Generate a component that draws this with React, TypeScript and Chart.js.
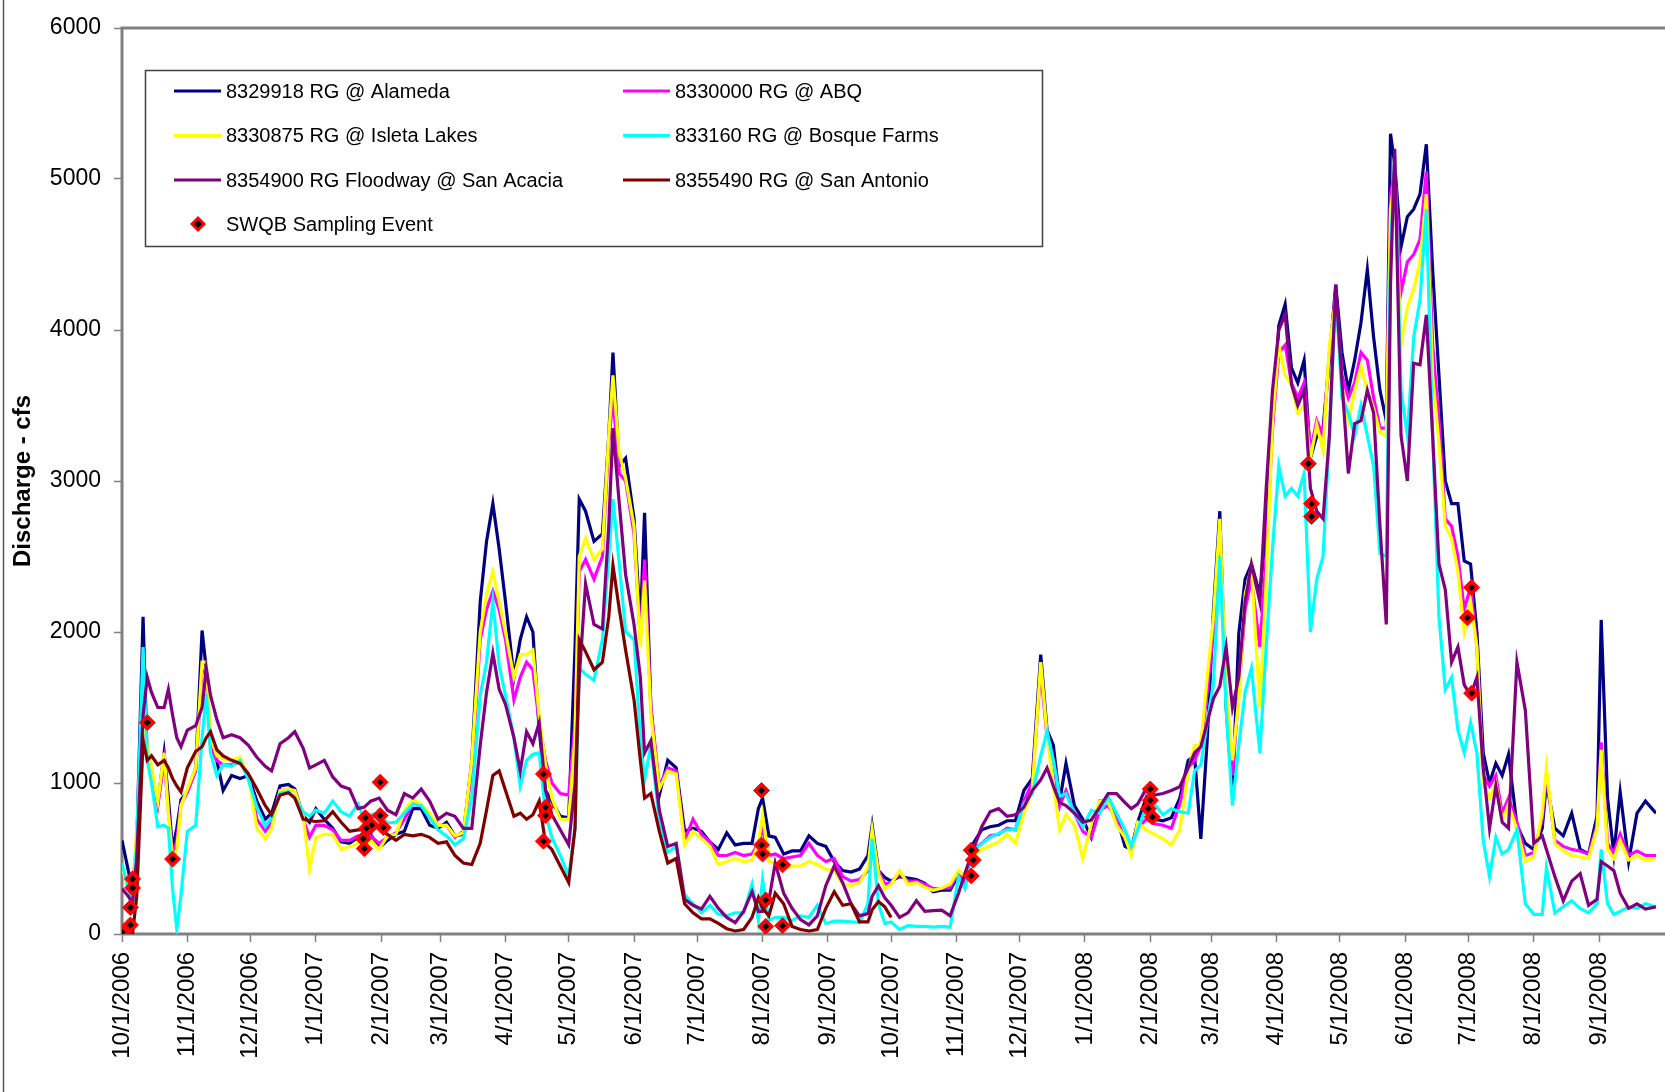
import React, { useEffect, useRef } from "react";
import { Chart, registerables } from "chart.js";

Chart.register(...registerables);

const FONT = "'Liberation Sans', Arial, Helvetica, sans-serif";

const STATIONS = [
  "8329918 RG @ Alameda",
  "8330000 RG @ ABQ",
  "8330875 RG @ Isleta Lakes",
  "833160 RG @ Bosque Farms",
  "8354900 RG Floodway @ San Acacia",
  "8355490 RG @ San Antonio",
];
const SAMPLING_LABEL = "SWQB Sampling Event";
const COLORS = ["#000080", "#FF00FF", "#FFFF00", "#00FFFF", "#800080", "#800000"];
const Y_TITLE = "Discharge - cfs";

// Days elapsed since 10/1/2006 for each discharge reading
const DAYS = [
  0, 3, 5, 7, 10, 12, 14, 17, 20, 22, 24, 26, 28, 31, 35, 38, 40, 42, 45, 48, 52, 56, 60, 64, 68, 71, 75, 79, 82, 86, 89, 92, 96, 100, 104, 108, 112, 115, 118, 122, 126, 130,
  134, 138, 142, 146, 150, 154, 158, 162, 166, 170, 173, 176, 179, 182, 186, 189, 192, 195, 198, 201, 204, 208, 212, 215, 217, 220, 224, 228, 231, 233, 236, 239, 243, 246, 248, 251, 255, 259, 263,
  267, 271, 275, 279, 283, 287, 291, 295, 299, 302, 304, 307, 310, 314, 318, 322, 326, 330, 334, 338, 342, 346, 350, 354, 356, 359, 362, 365, 369, 373, 377,
  381, 385, 389, 393, 397, 400, 404, 408, 412, 416, 420, 424, 428, 432, 436, 439, 442, 445, 448, 452, 456, 460, 464, 468, 472, 476, 479, 482, 486, 490, 494, 498, 502, 506, 509, 512, 515, 518, 521, 524, 527, 530, 533, 536, 540,
  543, 546, 549, 552, 555, 558, 561, 564, 567, 570, 573, 576, 579, 582, 585, 588, 591, 594, 597, 600, 602, 604, 607, 610, 613, 616, 619, 622, 625, 628, 631, 634, 637, 640, 643, 646,
  649, 652, 655, 658, 662, 666, 670, 674, 676, 680, 684, 688, 692, 696, 700, 702, 705, 708, 711, 715, 719, 723, 728,
];

// Daily mean discharge (cfs) per gage, one value per entry of DAYS
const ALAMEDA = [
  620, 420, 300, 600, 2100, 1150, 1080, 870, 1200, 900, 560, 700, 890, 940, 1100, 2010, 1750, 1250, 1150, 950, 1050, 1030, 1050, 880, 760, 800, 980, 990, 960, 780, 740, 830, 760, 700, 610, 600, 640, 620, 660, 570, 620, 660,
  680, 830, 830, 720, 700, 740, 650, 660, 1150, 2200, 2600, 2850, 2550, 2200, 1700, 1950, 2100, 2000, 1350, 950, 880, 780, 770, 1900, 2880, 2800, 2600, 2650, 3300, 3850, 3100, 3150, 2750, 2050, 2790, 1500, 920, 1150, 1100,
  680, 700, 680, 610, 560, 670, 590, 600, 600, 830, 900, 650, 640, 530, 550, 550, 650, 600, 580, 480, 420, 410, 430, 520, 720, 420, 375, 350, 380, 370, 360,
  335, 280, 290, 290, 390, 320, 600, 690, 710, 720, 750, 750, 950, 1030, 1850, 1350, 1250, 880, 1130, 850, 760, 640, 880, 880, 780, 580, 560, 740, 900, 760, 750, 770, 900, 1150, 1180, 630, 1280, 2150, 2800, 1500, 930, 1990, 2350, 2450, 2250,
  2700, 3400, 4030, 4170, 3750, 3650, 3800, 3150, 3300, 3350, 3800, 4300, 3850, 3600, 3800, 4050, 4400, 3950, 3600, 3400, 5300, 5100, 4550, 4750, 4800, 4900, 5230, 4400, 3700, 3000, 2850, 2850, 2470, 2450, 2000, 1200,
  1000, 1130, 1050, 1190, 720, 600, 560, 700, 1000, 700, 650, 800, 560, 530, 780, 2080, 900, 530, 940, 480, 800, 880, 800,
];
const ABQ = [
  420, 330, 260, 650, 1500, 1200, 1080, 850, 1150, 820, 520, 620, 860, 940, 1080, 1750, 1720, 1250, 1150, 1120, 1120, 1140, 1060, 760, 680, 740, 950, 960, 950, 760, 640, 720, 720, 690, 620, 620, 650, 620, 650, 600, 640, 670,
  760, 860, 850, 780, 720, 720, 640, 680, 1080, 1950, 2150, 2270, 2150, 1950, 1550, 1700, 1800, 1750, 1400, 1150, 1000, 930, 920, 1400, 2400, 2480, 2350, 2500, 3250, 3550, 3050, 3000, 2650, 1950, 2480, 1500, 980, 1100, 1080,
  620, 760, 660, 610, 520, 520, 540, 520, 530, 600, 700, 520, 530, 500, 510, 520, 600, 520, 480, 500, 380, 350, 360, 420, 650, 420, 330, 340, 400, 350, 350,
  330, 300, 300, 310, 400, 330, 560, 600, 650, 660, 700, 690, 880, 1000, 1750, 1300, 1150, 850, 950, 800, 680, 640, 820, 850, 760, 630, 560, 700, 760, 730, 720, 700, 860, 1100, 1150, 1250, 1600, 2000, 2650, 1550, 1050, 1600, 2150, 2350, 1900,
  2500, 3350, 3850, 3900, 3650, 3550, 3650, 3200, 3400, 3300, 3850, 4250, 3700, 3550, 3650, 3850, 3800, 3550, 3350, 3350, 4900, 5050, 4250, 4450, 4500, 4600, 5050, 3900, 3400, 2750, 2700, 2500, 2150, 2300, 1900, 1050,
  980, 1050, 800, 900, 740, 520, 540, 760, 1050, 620, 580, 560, 550, 530, 720, 1270, 600, 540, 660, 520, 550, 520, 520,
];
const ISLETA = [
  440, 300, 250, 700, 1450, 1250, 1100, 880, 1200, 800, 500, 560, 850, 960, 1100, 1800, 1800, 1300, 1180, 1160, 1150, 1170, 1050, 700, 630, 700, 950, 960, 950, 780, 430, 640, 660, 660, 560, 580, 600, 580, 620, 560, 650, 660,
  820, 890, 860, 800, 720, 720, 650, 670, 1150, 2000, 2250, 2400, 2200, 2000, 1700, 1850, 1850, 1880, 1450, 1120, 900, 760, 760, 1300, 2500, 2620, 2480, 2550, 3300, 3700, 3180, 3020, 2700, 1900, 2340, 1450, 960, 1080, 1060,
  590, 680, 630, 580, 460, 480, 500, 480, 490, 600, 790, 480, 470, 430, 450, 450, 480, 460, 430, 420, 330, 320, 340, 440, 690, 400, 300, 330, 420, 330, 340,
  310, 290, 305, 330, 420, 380, 520, 560, 585, 610, 660, 600, 800, 950, 1800, 1320, 980, 690, 790, 720, 500, 730, 880, 880, 720, 640, 520, 740, 690, 660, 630, 590, 690, 1080, 1250, 1250, 1700, 2100, 2750, 1620, 1150, 1550, 2250, 2430, 1500,
  2330, 3400, 3900, 3700, 3640, 3450, 3500, 3150, 3370, 3200, 3900, 4200, 3620, 3400, 3600, 3760, 3600, 3480, 3320, 3300, 4800, 5000, 3900, 4150, 4270, 4450, 4900, 3700, 3250, 2700, 2620, 2400, 2000, 2200, 1900, 1000,
  900, 1000, 750, 860, 690, 480, 510, 800, 1100, 600, 550, 520, 510, 500, 700, 1220, 560, 500, 620, 490, 520, 490, 500,
];
const BOSQUE_FARMS = [
  470, 300, 220, 600, 1900, 1150, 1000, 710, 720, 700, 300, 30, 260, 680, 720, 1300, 1590, 1200, 1050, 1120, 1110, 1150, 1020, 840, 715, 770, 930, 945, 900, 810, 780, 820, 800, 880, 810, 780, 860, 760, 790, 800, 735, 740,
  800, 860, 850, 770, 690, 650, 590, 630, 900, 1580, 1800, 2200, 1780, 1580, 1300, 980, 1150, 1190, 1200, 800, 640, 520, 380, 700, 1760, 1720, 1680, 1950, 2500, 2880, 2450, 2000, 1950, 1300, 1020, 1250, 750, 540, 580,
  260, 200, 140, 190, 130, 120, 140, 140, 330, 90, 360, 90, 110, 110, 90, 120, 110, 190, 70, 85, 85, 80, 75, 200, 630, 200, 70, 80, 30, 55, 50,
  50, 45, 50, 45, 380, 300, 550, 600, 640, 666, 690, 690, 860, 930, 1180, 1340, 1150, 910, 930, 800, 710, 820, 800, 910, 800, 690, 580, 690, 840, 860, 790, 830, 810, 800, 1080, 1120, 1400, 1660, 2500, 1480, 850, 1250, 1600, 1760, 1200,
  1900, 2550, 3100, 2900, 2950, 2900, 3050, 2000, 2350, 2500, 3300, 4250, 3550, 3450, 3300, 3500, 3300, 3100, 2520, 2500, 4500, 5150, 3600, 3300, 3950, 4200, 4800, 3300, 2100, 1620, 1700, 1350, 1200, 1400, 1200, 620,
  380, 640, 530, 560, 690, 200, 130, 130, 440, 140, 180, 220, 170, 140, 200, 560, 200, 130, 150, 180, 170, 200, 180,
];
const SAN_ACACIA = [
  300, 250, 200, 500, 1450, 1700, 1600, 1500, 1500, 1620, 1450, 1300, 1240, 1350, 1380, 1500, 1760, 1580, 1420, 1300, 1320, 1300, 1250, 1170, 1110, 1080, 1260, 1300, 1340, 1230, 1100, 1120, 1150, 1040, 980, 960, 830, 840, 880, 900, 820, 790,
  930, 900, 960, 880, 760, 800, 780, 700, 700, 1250, 1600, 1860, 1620, 1520, 1300, 1080, 1340, 1260, 1400, 950, 790, 690, 590, 1000, 1700, 2320, 2050, 2020, 2700, 3350, 2850, 2380, 2050, 1700, 1200, 1280, 820, 580, 600,
  230, 190, 165, 250, 170, 110, 75, 150, 280, 150, 150, 220, 470, 270, 170, 95, 60, 120, 320, 450, 340, 200, 120, 135, 250, 320, 240, 190, 110, 140, 220,
  150, 155, 158, 120, 270, 400, 560, 710, 810, 830, 780, 790, 840, 950, 1020, 1100, 980, 870, 850, 800, 740, 755, 840, 930, 930, 870, 830, 860, 960, 920, 930, 950, 975, 1100, 1200, 1240, 1400, 1560, 1640, 1900, 1500, 1700, 2200, 2450, 2200,
  2950, 3600, 4000, 4100, 3640, 3500, 3600, 2950, 2800, 2750, 3300, 4300, 3650, 3050, 3380, 3400, 3600, 3450, 2700, 2050, 4300, 5200, 3300, 3000, 3780, 3770, 4100, 3300, 2450, 2280, 1800, 1900, 1650, 1580, 1700, 1100,
  700, 980, 740, 700, 1800, 1480, 600, 650, 560, 380, 220, 350, 400, 190, 230, 480, 450, 420, 270, 170, 200, 165, 180,
];
// San Antonio record stops at the end of water year 2007
const SAN_ANTONIO = [
  0, 0, 0, 250, 1280, 1150, 1180, 1120, 1150, 1100, 1030, 980, 940, 1100, 1210, 1240, 1300, 1340, 1220, 1180, 1150, 1130, 1060, 960, 850, 790, 920, 935, 900, 760, 750, 745, 750, 810, 740, 680, 690, 690, 730, 700, 660, 620,
  660, 650, 660, 640, 600, 610, 520, 470, 460, 600, 820, 1050, 1080, 950, 780, 800, 760, 790, 880, 600, 560, 450, 340, 700, 1950, 1870, 1750, 1800, 2100, 2440, 2150, 1880, 1550, 1150, 900, 930, 680, 470, 500,
  200, 140, 100, 100, 70, 35, 20, 30, 110, 240, 170, 120, 270, 200, 50, 30, 20, 30, 170, 280, 190, 200, 80, 80, 160, 215, 180, 110,
];

const SERIES = [ALAMEDA, ABQ, ISLETA, BOSQUE_FARMS, SAN_ACACIA, SAN_ANTONIO];

// SWQB sampling events: day since 10/1/2006 and discharge at sampling
const SAMPLE_DAYS = [
  0, 4, 4, 5, 5, 12, 24,
  114.5, 115, 115.5, 116, 118.5, 122.5, 122.5, 124,
  200, 201, 201, 200,
  303.5, 303.5, 304, 305.5, 305.5, 313.5, 313.5,
  403, 404, 403,
  488, 488, 487, 489,
  563, 564.5, 564.5, 640.5, 638.5, 640.5,
];
const SAMPLE_CFS = [
  10, 60, 175, 305, 365, 1400, 496,
  630, 565, 770, 700, 720, 1005, 785, 705,
  1060, 840, 785, 615,
  950, 590, 530, 225, 50, 55, 458,
  555, 490, 385,
  960, 885, 830, 775,
  3115, 2850, 2765, 2295, 2095, 1595,
];

const MONTH_DAYS = [0, 31, 61, 92, 123, 151, 182, 212, 243, 273, 304, 335, 365, 396, 426, 457, 488, 517, 548, 578, 609, 639, 670, 701];
const MONTH_LABELS = [
  "10/1/2006", "11/1/2006", "12/1/2006", "1/1/2007", "2/1/2007", "3/1/2007", "4/1/2007", "5/1/2007",
  "6/1/2007", "7/1/2007", "8/1/2007", "9/1/2007", "10/1/2007", "11/1/2007", "12/1/2007", "1/1/2008",
  "2/1/2008", "3/1/2008", "4/1/2008", "5/1/2008", "6/1/2008", "7/1/2008", "8/1/2008", "9/1/2008",
];
const Y_TICKS = [0, 1000, 2000, 3000, 4000, 5000, 6000];
const X_MAX = 728;

const FRAME = "#808080";

const decorPlugin = {
  id: "decor",
  beforeDatasetsDraw(chart: any) {
    const { ctx, chartArea } = chart;
    ctx.save();
    ctx.strokeStyle = FRAME;
    ctx.lineWidth = 3;
    ctx.beginPath();
    ctx.moveTo(chartArea.left, chartArea.bottom);
    ctx.lineTo(chartArea.left, chartArea.top);
    ctx.lineTo(chart.width, chartArea.top);
    ctx.moveTo(chartArea.left, chartArea.bottom);
    ctx.lineTo(chart.width, chartArea.bottom);
    ctx.stroke();
    ctx.restore();
  },
  afterDraw(chart: any) {
    const { ctx } = chart;
    ctx.save();
    // outer chart border on the left
    ctx.strokeStyle = "#555555";
    ctx.lineWidth = 1.5;
    ctx.beginPath();
    ctx.moveTo(3.5, 0);
    ctx.lineTo(3.5, chart.height);
    ctx.stroke();

    // legend box
    const bx = 145, by = 70, bw = 897, bh = 176;
    ctx.fillStyle = "#ffffff";
    ctx.fillRect(bx, by, bw, bh);
    ctx.strokeStyle = "#404040";
    ctx.lineWidth = 1.5;
    ctx.strokeRect(bx + 0.5, by + 0.5, bw, bh);

    const rows = [91, 135.5, 180, 224];
    const cols = [174, 623];
    ctx.font = `20px ${FONT}`;
    ctx.textBaseline = "middle";
    ctx.textAlign = "left";
    STATIONS.forEach((name, i) => {
      const col = cols[i % 2];
      const y = rows[Math.floor(i / 2)];
      ctx.strokeStyle = COLORS[i];
      ctx.lineWidth = 3;
      ctx.beginPath();
      ctx.moveTo(col, y);
      ctx.lineTo(col + 47, y);
      ctx.stroke();
      ctx.fillStyle = "#000000";
      ctx.fillText(name, col + 52, y + 1);
    });
    // sampling marker entry
    const my = rows[3];
    const mx = 198;
    ctx.fillStyle = "#FF0000";
    ctx.beginPath();
    ctx.moveTo(mx, my - 8);
    ctx.lineTo(mx + 8, my);
    ctx.lineTo(mx, my + 8);
    ctx.lineTo(mx - 8, my);
    ctx.closePath();
    ctx.fill();
    ctx.fillStyle = "#000000";
    ctx.beginPath();
    ctx.moveTo(mx, my - 4);
    ctx.lineTo(mx + 4, my);
    ctx.lineTo(mx, my + 4);
    ctx.lineTo(mx - 4, my);
    ctx.closePath();
    ctx.fill();
    ctx.fillText(SAMPLING_LABEL, 226, my + 1);
    ctx.restore();
  },
};

export default function App() {
  const canvasRef = useRef<HTMLCanvasElement | null>(null);

  useEffect(() => {
    const canvas = canvasRef.current;
    if (!canvas) return;

    const lineSets = SERIES.map((vals, i) => ({
      type: "line" as const,
      label: STATIONS[i],
      data: vals.map((v, k) => ({ x: DAYS[k], y: v })),
      borderColor: COLORS[i],
      backgroundColor: COLORS[i],
      borderWidth: 3.2,
      pointRadius: 0,
      tension: 0,
      fill: false,
      order: 6 - i + 2,
    }));

    const samplePoints = SAMPLE_DAYS.map((d, k) => ({ x: d, y: SAMPLE_CFS[k] }));

    const chart = new Chart(canvas, {
      type: "line",
      data: {
        datasets: [
          ...lineSets,
          {
            type: "line",
            label: SAMPLING_LABEL,
            data: samplePoints,
            showLine: false,
            pointStyle: "rectRot",
            pointRadius: 8,
            pointBackgroundColor: "#FF0000",
            pointBorderColor: "#FF0000",
            pointBorderWidth: 1,
            order: 1,
          },
          {
            type: "line",
            label: "",
            data: samplePoints,
            showLine: false,
            pointStyle: "rectRot",
            pointRadius: 3.5,
            pointBackgroundColor: "#000000",
            pointBorderColor: "#000000",
            pointBorderWidth: 0,
            order: 0,
          },
        ] as any,
      },
      options: {
        animation: false,
        responsive: false,
        devicePixelRatio: 1,
        layout: { padding: { left: 0, top: 28, right: 0, bottom: 0 } },
        plugins: { legend: { display: false }, tooltip: { enabled: false } },
        scales: {
          x: {
            type: "linear",
            min: 0,
            max: X_MAX,
            afterBuildTicks: (axis: any) => {
              axis.ticks = MONTH_DAYS.map((v) => ({ value: v }));
            },
            afterFit: (axis: any) => {
              axis.height = 158;
            },
            border: { display: false },
            grid: { drawOnChartArea: false, drawTicks: true, tickLength: 8, tickColor: FRAME, tickWidth: 1.5 },
            ticks: {
              autoSkip: false,
              minRotation: 90,
              maxRotation: 90,
              padding: 10,
              color: "#000000",
              font: { family: FONT, size: 24 },
              callback: (value: any) => {
                const idx = MONTH_DAYS.indexOf(Number(value));
                return idx >= 0 ? MONTH_LABELS[idx] : "";
              },
            },
          },
          y: {
            type: "linear",
            min: 0,
            max: 6000,
            afterBuildTicks: (axis: any) => {
              axis.ticks = Y_TICKS.map((v) => ({ value: v }));
            },
            afterFit: (axis: any) => {
              axis.width = 122;
            },
            border: { display: false },
            grid: { drawOnChartArea: false, drawTicks: true, tickLength: 8, tickColor: FRAME, tickWidth: 1.5 },
            ticks: {
              padding: 13,
              color: "#000000",
              font: { family: FONT, size: 23 },
              callback: (value: any) => String(value),
            },
            title: {
              display: true,
              text: Y_TITLE,
              color: "#000000",
              font: { family: FONT, size: 24, weight: "bold" },
              padding: { top: 9, bottom: 0 },
            },
          },
        },
      } as any,
      plugins: [decorPlugin],
    });

    return () => chart.destroy();
  }, []);

  return (
    <div style={{ position: "fixed", left: 0, top: 0, width: 1665, height: 1092, background: "#ffffff" }}>
      <canvas ref={canvasRef} width={1665} height={1092} style={{ display: "block" }} />
    </div>
  );
}
